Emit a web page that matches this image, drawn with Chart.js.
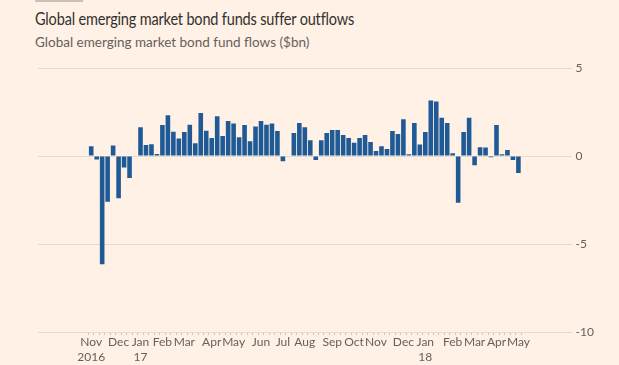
<!DOCTYPE html>
<html>
<head>
<meta charset="utf-8">
<script src="https://cdn.jsdelivr.net/npm/chart.js@4"></script>
<style>
  html, body { margin: 0; padding: 0; background: #fff1e5; }
  body { width: 619px; height: 365px; position: relative; overflow: hidden; font-family: 'Lato', sans-serif; }
  .topbar { position: absolute; left: 35px; top: 0; width: 48px; height: 2px; background: #ccc1b7; }
  h1 { position: absolute; left: 35px; top: 9px; margin: 0; font-size: 16.5px; letter-spacing: -0.2px; font-weight: normal; color: #33302e; white-space: nowrap; transform: scaleX(0.88); transform-origin: left top; }
  h2 { position: absolute; left: 35px; top: 34px; margin: 0; font-size: 13.5px; font-weight: normal; color: #66605c; white-space: nowrap; }
  #wrap { position: absolute; left: 0; top: 0; width: 619px; height: 365px; }
</style>
</head>
<body>
<div class="topbar"></div>
<h1>Global emerging market bond funds suffer outflows</h1>
<h2>Global emerging market bond fund flows ($bn)</h2>
<div id="wrap"><canvas id="chart"></canvas></div>
<script>
// Weekly flows, first week of Nov 2016 to first week of May 2018 ($bn)
const flows = [
    0.55, -0.2, -6.15, -2.6, 0.6, -2.4, -0.65, -1.25, 0, 1.63,
    0.62, 0.67, 0.12, 1.76, 2.32, 1.38, 0.99, 1.36, 1.78, 0.73,
    2.45, 1.44, 1.02, 2.26, 1.13, 1.99, 1.84, 1.07, 1.76, 0.84,
    1.68, 1.99, 1.78, 1.84, 1.42, -0.3, 0, 1.3, 1.88, 1.63,
    0.9, -0.23, 0.9, 1.3, 1.48, 1.48, 1.19, 1.02, 0.75, 1.02,
    1.19, 0.8, 0.29, 0.56, 0.4, 1.42, 1.25, 2.09, 0.1, 1.88,
    0.65, 1.36, 3.16, 3.09, 2.17, 1.88, 0.15, -2.65, 1.36, 2.17,
    -0.52, 0.5, 0.48, -0.07, 1.76, 0.1, 0.34, -0.23, -0.96
];

// Week index where each month label sits
const monthWeeks = [0, 5, 9, 13, 17, 22, 26, 31, 35, 39, 44, 48, 52, 57, 61, 66, 70, 74, 78];
const monthNames = ['Nov', 'Dec', 'Jan', 'Feb', 'Mar', 'Apr', 'May', 'Jun', 'Jul', 'Aug',
                    'Sep', 'Oct', 'Nov', 'Dec', 'Jan', 'Feb', 'Mar', 'Apr', 'May'];
const yearNames = ['2016', '', '17', '', '', '', '', '', '', '',
                   '', '', '', '', '18', '', '', '', ''];

const yTicks = [-10, -5, 0, 5];

const colors = {
    bar: '#1f5a96',
    grid: '#e6d9ce',
    tick: '#cfc3b8',
    text: '#66605c'
};

Chart.defaults.font.family = "'Lato', sans-serif";
Chart.defaults.font.size = 12;
Chart.defaults.color = colors.text;

const points = flows.map((v, i) => ({ x: i, y: v }));

new Chart(document.getElementById('chart'), {
    type: 'bar',
    data: {
        datasets: [{
            data: points,
            backgroundColor: colors.bar,
            borderWidth: 0,
            barPercentage: 0.84,
            categoryPercentage: 1.0
        }]
    },
    options: {
        responsive: true,
        maintainAspectRatio: false,
        animation: false,
        layout: { padding: { left: 38, top: 68, right: 21, bottom: 0 } },
        plugins: { legend: { display: false }, tooltip: { enabled: false } },
        scales: {
            x: {
                type: 'linear',
                min: -9.1,
                max: 87.1,
                afterBuildTicks: (scale) => {
                    scale.ticks = flows.map((v, i) => ({ value: i }));
                },
                ticks: {
                    autoSkip: false,
                    maxRotation: 0,
                    padding: 0,
                    font: { size: 12, lineHeight: 1.25 },
                    callback: (value) => {
                        const k = monthWeeks.indexOf(value);
                        if (k < 0) return '';
                        return yearNames[k] ? [monthNames[k], yearNames[k]] : monthNames[k];
                    }
                },
                grid: {
                    drawOnChartArea: false,
                    drawTicks: true,
                    tickLength: 3,
                    color: colors.tick
                },
                border: { display: false }
            },
            y: {
                position: 'right',
                min: -10,
                max: 5,
                afterBuildTicks: (scale) => {
                    scale.ticks = yTicks.map(v => ({ value: v }));
                },
                ticks: { padding: 4, font: { size: 12 } },
                grid: { color: colors.grid, drawTicks: false },
                border: { display: false }
            }
        }
    }
});
</script>
</body>
</html>
